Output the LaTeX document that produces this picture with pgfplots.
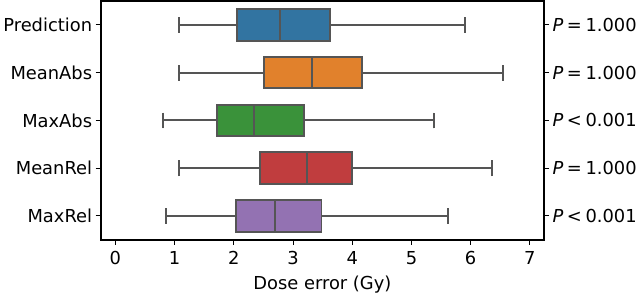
\documentclass[border=0pt]{standalone}
\usepackage{fontspec}
\setmainfont{DejaVu Sans}
\usepackage{pgfplots}
\pgfplotsset{compat=1.18}
\usepgfplotslibrary{statistics}
\definecolor{c1}{HTML}{3274A1}
\definecolor{c2}{HTML}{E1812C}
\definecolor{c3}{HTML}{3A923A}
\definecolor{c4}{HTML}{C03D3E}
\definecolor{c5}{HTML}{9372B2}
\definecolor{edge}{HTML}{555555}
\pgfplotsset{
  common/.style={
    scale only axis, width=442pt, height=238pt,
    xmin=-0.25, xmax=7.24, ymin=-0.5, ymax=4.5,
    font=\fontsize{17.8}{21}\selectfont,
    /pgf/number format/assume math mode=true,
    tick align=outside, major tick length=5pt,
    tick style={black, line width=1.1pt},
    axis line style={line width=2pt},
  },
  bx/.style={draw=edge, fill=#1, line width=1.8pt, solid,
    boxplot/every whisker/.style={draw=edge, line width=1.8pt, solid},
    boxplot/every median/.style={draw=edge, line width=1.8pt, solid},
    boxplot/every box/.style={draw=edge, line width=1.8pt, solid}}
}
\begin{document}
\begin{tikzpicture}
\begin{axis}[common,
  xtick={0,1,2,3,4,5,6,7}, ytick={0,1,2,3,4},
  yticklabels={MaxRel,MeanRel,MaxAbs,MeanAbs,Prediction},
  xtick pos=bottom, ytick pos=left,
  xticklabel style={yshift=-3pt},
  xlabel={Dose error (Gy)},
  xlabel style={yshift=-4pt},
  boxplot/draw direction=x,
]
\addplot[bx=c1, boxplot prepared={draw position=4, lower whisker=1.07, lower quartile=2.05, median=2.78, upper quartile=3.62, upper whisker=5.91, box extend=0.66, whisker extend=0.33}] coordinates {};
\addplot[bx=c2, boxplot prepared={draw position=3, lower whisker=1.07, lower quartile=2.51, median=3.32, upper quartile=4.16, upper whisker=6.54, box extend=0.66, whisker extend=0.33}] coordinates {};
\addplot[bx=c3, boxplot prepared={draw position=2, lower whisker=0.81, lower quartile=1.71, median=2.34, upper quartile=3.18, upper whisker=5.38, box extend=0.66, whisker extend=0.33}] coordinates {};
\addplot[bx=c4, boxplot prepared={draw position=1, lower whisker=1.07, lower quartile=2.44, median=3.23, upper quartile=4.00, upper whisker=6.36, box extend=0.66, whisker extend=0.33}] coordinates {};
\addplot[bx=c5, boxplot prepared={draw position=0, lower whisker=0.86, lower quartile=2.03, median=2.69, upper quartile=3.48, upper whisker=5.62, box extend=0.66, whisker extend=0.33}] coordinates {};
\end{axis}
\begin{axis}[common,
  axis x line=none, axis y line*=right,
  ytick={0,1,2,3,4},
  yticklabels={
    {\textit{P}\hspace{0.2em}<\hspace{0.2em}0.001},
    {\textit{P}\hspace{0.2em}=\hspace{0.2em}1.000},
    {\textit{P}\hspace{0.2em}<\hspace{0.2em}0.001},
    {\textit{P}\hspace{0.2em}=\hspace{0.2em}1.000},
    {\textit{P}\hspace{0.2em}=\hspace{0.2em}1.000}},
]
\addplot[draw=none] coordinates {(0,0)};
\end{axis}
\end{tikzpicture}
\end{document}
